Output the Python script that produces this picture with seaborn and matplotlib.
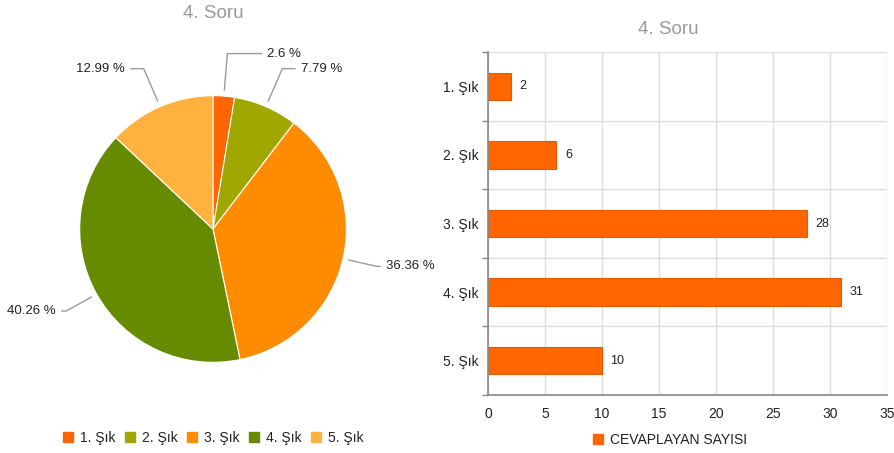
import numpy as np
import pandas as pd
import matplotlib
matplotlib.use("Agg")
import matplotlib.pyplot as plt
from matplotlib.lines import Line2D
import seaborn as sns

categories = ["1. Şık", "2. Şık", "3. Şık", "4. Şık", "5. Şık"]
counts = [2, 6, 28, 31, 10]
pie_colors = ["#FF6600", "#A0A700", "#FF8C00", "#678B00", "#FFB23E"]
bar_color = "#FF6600"
series_name = "CEVAPLAYAN SAYISI"
title = "4. Soru"
x_ticks = [0, 5, 10, 15, 20, 25, 30, 35]

# leader-line layout (radius of elbow, horizontal run) per slice, in pie-radius units
elbow_r = [1.32, 1.31, 1.26, 1.26, 1.31]
run_len = [0.26, 0.10, 0.03, 0.04, 0.10]

sns.set_theme(style="white")
plt.rcParams["font.family"] = ["Liberation Sans", "DejaVu Sans"]

W, H = 894, 453
fig = plt.figure(figsize=(W / 100, H / 100), dpi=100)

# ---------------- Pie ----------------
axp = fig.add_axes([13 / W, 1 - 429 / H, 400 / W, 400 / H])
wedges, _ = axp.pie(counts, colors=pie_colors, startangle=90, counterclock=False,
                    wedgeprops=dict(edgecolor="white", linewidth=0.8))
axp.set_xlim(-1.5, 1.5)
axp.set_ylim(-1.5, 1.5)
axp.set_aspect("equal")
axp.axis("off")

total = sum(counts)
for w, c, r2, run in zip(wedges, counts, elbow_r, run_len):
    ang = np.deg2rad((w.theta1 + w.theta2) / 2)
    ca, sa = np.cos(ang), np.sin(ang)
    r1 = 1.04
    p1 = (r1 * ca, r1 * sa)
    p2 = (r2 * ca, r2 * sa)
    side = 1 if ca >= 0 else -1
    p3 = (p2[0] + side * run, p2[1])
    axp.plot([p1[0], p2[0], p3[0]], [p1[1], p2[1], p3[1]], color="#9a9a9a",
             lw=1.0, solid_capstyle="butt", clip_on=False)
    pct = round(100 * c / total, 2)
    label = f"{pct:g} %"
    axp.text(p3[0] + side * 0.04, p3[1], label, ha="left" if side > 0 else "right",
             va="center", fontsize=9.5, color="#222222", clip_on=False)

fig.text(213 / W, 1 - 14 / H, title, ha="center", va="center", fontsize=13.5, color="#9a9a9a")

handles = [Line2D([0], [0], marker="s", linestyle="none", markersize=7,
                  markerfacecolor=col, markeredgecolor=col) for col in pie_colors]
fig.legend(handles, categories, loc="center", bbox_to_anchor=(213 / W, 1 - 438 / H),
           ncol=5, frameon=False, fontsize=10, handlelength=0.8, handletextpad=0.5,
           columnspacing=0.6, labelcolor="#222222")

# ---------------- Bar ----------------
axb = fig.add_axes([488 / W, 1 - 395 / H, 399 / W, 343 / H])
df = pd.DataFrame({"cat": categories, "val": counts})
sns.barplot(data=df, x="val", y="cat", color=bar_color, width=0.4, ax=axb,
            edgecolor="#E35A00", linewidth=0.8, saturation=1)
axb.set_xlim(0, 35)
axb.set_ylim(len(categories) - 0.5, -0.5)
axb.set_xticks(x_ticks)
axb.set_xticklabels([str(t) for t in x_ticks])
axb.set_yticks(np.arange(-0.5, len(categories), 1.0), minor=True)
axb.grid(True, axis="x", color="#dddddd", lw=1)
axb.grid(True, axis="y", which="minor", color="#dddddd", lw=1)
axb.set_axisbelow(True)
for s in ["top", "right"]:
    axb.spines[s].set_visible(False)
axb.spines["left"].set_color("#888888")
axb.spines["bottom"].set_color("#888888")
axb.spines["left"].set_linewidth(1.2)
axb.spines["bottom"].set_linewidth(1.2)
axb.tick_params(axis="y", which="major", length=0, pad=7, labelsize=10, labelcolor="#222222")
axb.tick_params(axis="y", which="minor", length=4, color="#888888", left=True)
axb.tick_params(axis="x", length=0, pad=9, labelsize=10, labelcolor="#222222")
axb.set_xlabel("")
axb.set_ylabel("")
for i, v in enumerate(counts):
    axb.text(v + 0.75, i, str(v), va="center", ha="left", fontsize=9, color="#222222")

fig.text(668 / W, 1 - 30 / H, title, ha="center", va="center", fontsize=13.5, color="#9a9a9a")
fig.legend([Line2D([0], [0], marker="s", linestyle="none", markersize=7,
                   markerfacecolor=bar_color, markeredgecolor=bar_color)],
           [series_name], loc="center", bbox_to_anchor=(670 / W, 1 - 440 / H),
           frameon=False, fontsize=10, handlelength=0.8, handletextpad=0.5,
           labelcolor="#222222")

fig.savefig("out.png", dpi=100)
